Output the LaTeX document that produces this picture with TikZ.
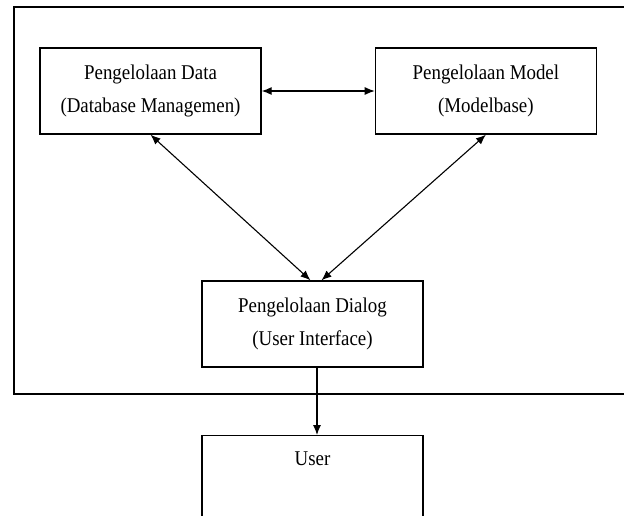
\documentclass[tikz,border=0pt]{standalone}
\usepackage{fontspec}
\setmainfont{Liberation Serif}[FakeStretch=0.9]
\usetikzlibrary{arrows.meta,positioning}

\begin{document}
\begin{tikzpicture}[x=1pt,y=-1pt,
	kotak/.style={draw,line width=1.4pt,minimum width=221pt,minimum height=86pt,align=center,font=\fontsize{21}{33}\selectfont},
	panah/.style={>={Latex[length=10pt,width=8pt]},line width=1.1pt}]
\useasboundingbox (0,0) rectangle (624,516);
% bingkai sistem
\draw[line width=1.4pt] (14,7) rectangle (650,394);

\node[kotak] (data) at (150.5,91) {Pengelolaan Data\\(Database Managemen)};
\node[kotak,right=113pt of data] (model) {Pengelolaan Model\\(Modelbase)};
\node[kotak] (dialog) at (312.5,324) {Pengelolaan Dialog\\(User Interface)};
\node[kotak,anchor=north,text height=23pt,text depth=60pt,inner ysep=7pt] (user) at (312.5,435) {User};

\path [<->,panah]
	(data.east) edge (model.west)
	(data.south) edge ([xshift=-2pt]dialog.north)
	(model.south) edge ([xshift=9pt]dialog.north);
\draw [->,panah] ([xshift=4.5pt]dialog.south) -- ([xshift=4.5pt]user.north);
\end{tikzpicture}
\end{document}
